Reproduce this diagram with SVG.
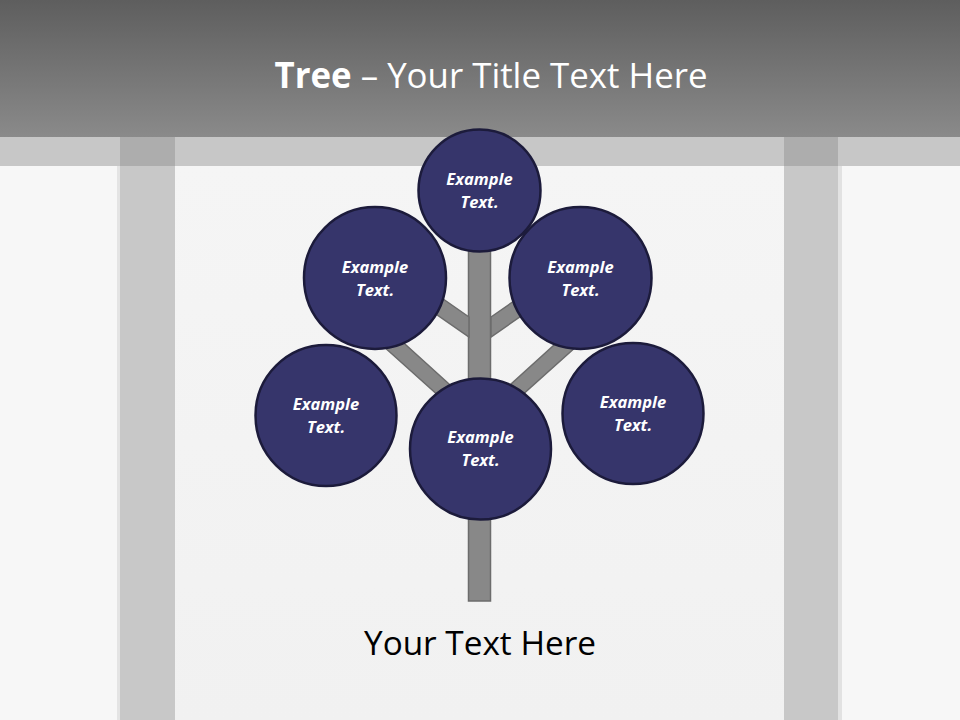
<svg xmlns="http://www.w3.org/2000/svg" width="960" height="720" viewBox="0 0 960 720">
  <defs>
    <linearGradient id="hdr" x1="0" y1="0" x2="0" y2="1">
      <stop offset="0" stop-color="#5e5e5e"/>
      <stop offset="1" stop-color="#8a8a8a"/>
    </linearGradient>
    <linearGradient id="bg" x1="0" y1="0" x2="0" y2="1">
      <stop offset="0" stop-color="#f5f5f5"/>
      <stop offset="1" stop-color="#f1f1f1"/>
    </linearGradient>
    <style>
      .wood { fill: #888888; stroke: #6c6c6c; stroke-width: 1.5; }
      .leaf { fill: #36356b; stroke: #1c1b3b; stroke-width: 2.5; }
      .lbl { font-family: "Open Sans", "Liberation Sans", sans-serif; font-weight: bold; font-style: italic; font-size: 16.5px; fill: #ffffff; text-anchor: middle; }
    </style>
  </defs>

  <!-- background -->
  <rect x="0" y="0" width="960" height="720" fill="#f7f7f7"/>
  <rect x="175" y="166" width="609" height="554" fill="url(#bg)"/>
  <rect x="0" y="137" width="960" height="29" fill="#c7c7c7"/>
  <rect x="120" y="137" width="55" height="583" fill="#c8c8c8"/>
  <rect x="784" y="137" width="54" height="583" fill="#c8c8c8"/>
  <rect x="120" y="137" width="55" height="29" fill="#adadad"/>
  <rect x="784" y="137" width="54" height="29" fill="#adadad"/>
  <rect x="838" y="166" width="4" height="554" fill="#e2e2e2"/>
  <rect x="117" y="166" width="3" height="554" fill="#e4e4e4"/>

  <!-- header -->
  <rect x="0" y="0" width="960" height="137" fill="url(#hdr)"/>
  <text x="491" y="88" text-anchor="middle" font-family="Open Sans, Liberation Sans, sans-serif" font-size="35" fill="#ffffff" textLength="433" lengthAdjust="spacingAndGlyphs"><tspan font-weight="bold">Tree</tspan> – Your Title Text Here</text>

  <!-- connectors: trunk and branches -->
  <g id="connectors">
    <rect class="wood" x="468.5" y="240" width="22" height="361"/>
    <polygon class="wood" points="469,317 387,260 387,280 469,337"/>
    <polygon class="wood" points="491,317 573,260 573,280 491,337"/>
    <polygon class="wood" points="374,316 470,403 460,415 363,328"/>
    <polygon class="wood" points="586,316 490,403 500,415 597,328"/>
  </g>

  <!-- nodes -->
  <g id="node-top">
    <circle class="leaf" cx="479.5" cy="190.5" r="61"/>
    <text class="lbl" x="479.5" y="185">Example</text>
    <text class="lbl" x="479.5" y="208">Text.</text>
  </g>
  <g id="node-upper-left">
    <circle class="leaf" cx="375" cy="278" r="71"/>
    <text class="lbl" x="375" y="273">Example</text>
    <text class="lbl" x="375" y="296">Text.</text>
  </g>
  <g id="node-upper-right">
    <circle class="leaf" cx="580.5" cy="278" r="71"/>
    <text class="lbl" x="580.5" y="273">Example</text>
    <text class="lbl" x="580.5" y="296">Text.</text>
  </g>
  <g id="node-lower-left">
    <circle class="leaf" cx="326" cy="415.5" r="70.5"/>
    <text class="lbl" x="326" y="410">Example</text>
    <text class="lbl" x="326" y="433">Text.</text>
  </g>
  <g id="node-center">
    <circle class="leaf" cx="480.5" cy="449" r="70.5"/>
    <text class="lbl" x="480.5" y="443">Example</text>
    <text class="lbl" x="480.5" y="466">Text.</text>
  </g>
  <g id="node-lower-right">
    <circle class="leaf" cx="633" cy="413.5" r="70.5"/>
    <text class="lbl" x="633" y="408">Example</text>
    <text class="lbl" x="633" y="431">Text.</text>
  </g>

  <text x="480" y="655" text-anchor="middle" font-family="Open Sans, Liberation Sans, sans-serif" font-size="33" fill="#000000" textLength="232" lengthAdjust="spacingAndGlyphs">Your Text Here</text>
</svg>
